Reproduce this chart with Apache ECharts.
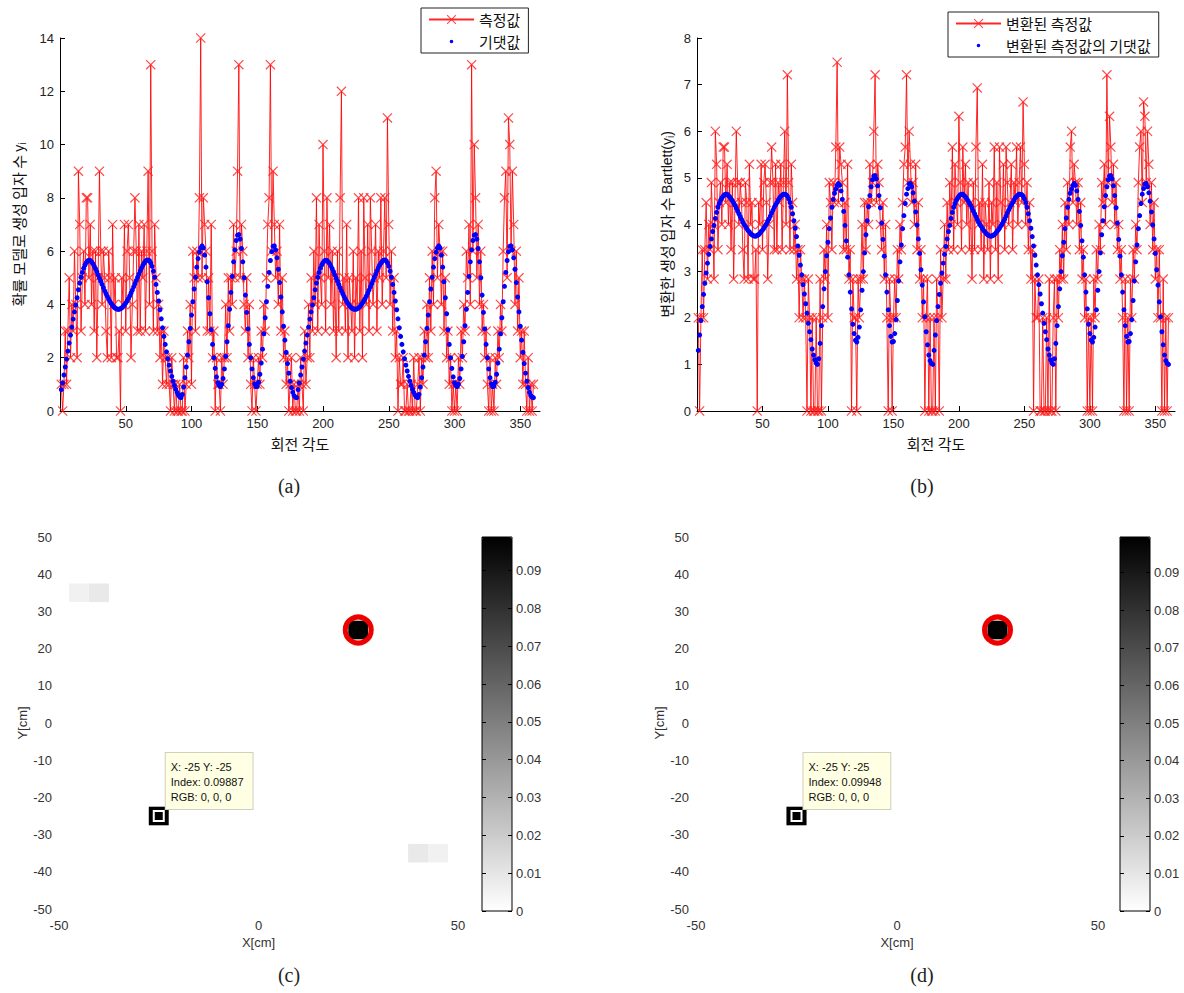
<!DOCTYPE html>
<html>
<head>
<meta charset="utf-8">
<script src="https://cdn.jsdelivr.net/npm/echarts@6/dist/echarts.min.js"></script>
<style>
html, body { margin: 0; background: #fff; }
#chart { width: 1184px; height: 993px; }
</style>
</head>
<body>
<div id="chart"></div>
<script>
// first rotation angle of the samples (one sample per degree)
var startAngle = 1;

// (a) measured particle counts y_i, degrees 1..360
var measuredA = [
    1,0,1,3,1,3,5,2,4,3,
    6,4,2,9,7,3,5,6,4,8,
    8,5,7,4,6,3,6,2,5,9,
    6,4,6,5,3,2,6,5,2,7,
    4,5,2,2,3,0,5,4,7,3,
    6,7,5,2,4,6,8,6,3,7,
    3,6,5,7,3,6,9,4,13,6,
    3,7,5,3,4,2,3,1,3,2,
    1,2,1,0,2,1,0,1,0,0,
    1,0,0,2,0,1,3,2,4,1,
    6,5,3,6,5,8,14,5,8,7,
    6,3,5,3,7,2,3,0,2,1,
    1,0,2,1,2,4,2,5,3,5,
    4,7,5,6,9,13,5,7,6,4,
    3,5,2,4,1,0,2,1,0,1,
    2,1,3,2,4,3,5,7,8,13,
    6,9,7,5,6,4,7,3,5,2,
    3,1,2,0,1,2,0,1,0,0,
    1,0,2,1,0,3,1,2,4,2,
    5,3,6,4,8,3,7,5,4,10,
    6,3,8,5,7,4,6,3,5,2,
    6,3,8,12,4,5,3,7,2,5,
    4,3,6,2,5,4,8,3,6,2,
    8,5,4,7,3,8,6,4,5,7,
    3,6,5,8,4,6,8,5,11,7,
    4,6,3,5,2,3,0,2,1,1,
    2,0,0,1,0,0,1,0,2,0,
    0,1,2,0,2,1,3,2,4,2,
    5,3,6,4,8,9,5,7,6,4,
    6,3,5,2,3,1,2,0,1,0,
    1,0,2,1,3,2,4,3,6,5,
    7,4,13,6,10,8,5,7,4,6,
    3,4,2,3,1,0,2,0,1,0,
    2,1,3,2,4,3,6,8,9,5,
    11,10,6,9,7,4,6,3,5,2,
    3,1,3,1,0,2,0,1,0,1
];

// (a) expected counts
var expectedA = [
    0.8,1.05,1.35,1.65,1.95,2.25,2.55,2.85,3.15,3.45,
    3.72,3.98,4.25,4.55,4.8,5.02,5.2,5.36,5.48,5.57,
    5.63,5.66,5.65,5.6,5.53,5.44,5.34,5.23,5.11,4.99,
    4.87,4.75,4.63,4.51,4.4,4.3,4.2,4.11,4.03,3.96,
    3.9,3.86,3.83,3.82,3.82,3.84,3.87,3.92,3.98,4.05,
    4.13,4.22,4.32,4.43,4.54,4.66,4.78,4.9,5.02,5.14,
    5.26,5.37,5.47,5.55,5.62,5.66,5.67,5.64,5.56,5.43,
    5.25,5.02,4.75,4.45,4.13,3.8,3.46,3.12,2.8,2.5,
    2.22,1.96,1.72,1.5,1.3,1.12,0.96,0.82,0.7,0.6,
    0.53,0.5,0.62,0.9,1.25,1.65,2.1,2.6,3.1,3.6,
    4.1,4.58,5.02,5.4,5.72,5.96,6.12,6.2,6.12,5.85,
    5.4,4.85,4.25,3.65,3.05,2.5,2.0,1.6,1.28,1.06,
    0.95,0.92,1.0,1.22,1.58,2.05,2.6,3.2,3.82,4.45,
    5.05,5.6,6.05,6.4,6.6,6.62,6.45,6.1,5.6,5.0,
    4.35,3.7,3.08,2.5,2.0,1.58,1.25,1.02,0.92,0.93,
    1.08,1.38,1.8,2.32,2.9,3.5,4.1,4.68,5.2,5.65,
    5.98,6.18,6.2,6.05,5.75,5.32,4.82,4.28,3.72,3.18,
    2.66,2.2,1.78,1.42,1.12,0.88,0.7,0.58,0.52,0.5,
    0.8,1.05,1.35,1.65,1.95,2.25,2.55,2.85,3.15,3.45,
    3.72,3.98,4.25,4.55,4.8,5.02,5.2,5.36,5.48,5.57,
    5.63,5.66,5.65,5.6,5.53,5.44,5.34,5.23,5.11,4.99,
    4.87,4.75,4.63,4.51,4.4,4.3,4.2,4.11,4.03,3.96,
    3.9,3.86,3.83,3.82,3.82,3.84,3.87,3.92,3.98,4.05,
    4.13,4.22,4.32,4.43,4.54,4.66,4.78,4.9,5.02,5.14,
    5.26,5.37,5.47,5.55,5.62,5.66,5.67,5.64,5.56,5.43,
    5.25,5.02,4.75,4.45,4.13,3.8,3.46,3.12,2.8,2.5,
    2.22,1.96,1.72,1.5,1.3,1.12,0.96,0.82,0.7,0.6,
    0.53,0.5,0.62,0.9,1.25,1.65,2.1,2.6,3.1,3.6,
    4.1,4.58,5.02,5.4,5.72,5.96,6.12,6.2,6.12,5.85,
    5.4,4.85,4.25,3.65,3.05,2.5,2.0,1.6,1.28,1.06,
    0.95,0.92,1.0,1.22,1.58,2.05,2.6,3.2,3.82,4.45,
    5.05,5.6,6.05,6.4,6.6,6.62,6.45,6.1,5.6,5.0,
    4.35,3.7,3.08,2.5,2.0,1.58,1.25,1.02,0.92,0.93,
    1.08,1.38,1.8,2.32,2.9,3.5,4.1,4.68,5.2,5.65,
    5.98,6.18,6.2,6.05,5.75,5.32,4.82,4.28,3.72,3.18,
    2.66,2.2,1.78,1.42,1.12,0.88,0.7,0.58,0.52,0.5
];

// (b) Bartlett transformed measurements
var measuredB = [
    2,0,2,3.46,2,3.46,4.47,2.83,4,3.46,
    4.9,4,2.83,6,5.29,3.46,4.47,4.9,4,5.66,
    5.66,4.47,5.29,4,4.9,3.46,4.9,2.83,4.47,6,
    4.9,4,4.9,4.47,3.46,2.83,4.9,4.47,2.83,5.29,
    4,4.47,2.83,2.83,3.46,0,4.47,4,5.29,3.46,
    4.9,5.29,4.47,2.83,4,4.9,5.66,4.9,3.46,5.29,
    3.46,4.9,4.47,5.29,3.46,4.9,6,4,7.21,4.9,
    3.46,5.29,4.47,3.46,4,2.83,3.46,2,3.46,2.83,
    2,2.83,2,0,2.83,2,0,2,0,0,
    2,0,0,2.83,0,2,3.46,2.83,4,2,
    4.9,4.47,3.46,4.9,4.47,5.66,7.48,4.47,5.66,5.29,
    4.9,3.46,4.47,3.46,5.29,2.83,3.46,0,2.83,2,
    2,0,2.83,2,2.83,4,2.83,4.47,3.46,4.47,
    4,5.29,4.47,4.9,6,7.21,4.47,5.29,4.9,4,
    3.46,4.47,2.83,4,2,0,2.83,2,0,2,
    2.83,2,3.46,2.83,4,3.46,4.47,5.29,5.66,7.21,
    4.9,6,5.29,4.47,4.9,4,5.29,3.46,4.47,2.83,
    3.46,2,2.83,0,2,2.83,0,2,0,0,
    2,0,2.83,2,0,3.46,2,2.83,4,2.83,
    4.47,3.46,4.9,4,5.66,3.46,5.29,4.47,4,6.32,
    4.9,3.46,5.66,4.47,5.29,4,4.9,3.46,4.47,2.83,
    4.9,3.46,5.66,6.93,4,4.47,3.46,5.29,2.83,4.47,
    4,3.46,4.9,2.83,4.47,4,5.66,3.46,4.9,2.83,
    5.66,4.47,4,5.29,3.46,5.66,4.9,4,4.47,5.29,
    3.46,4.9,4.47,5.66,4,4.9,5.66,4.47,6.63,5.29,
    4,4.9,3.46,4.47,2.83,3.46,0,2.83,2,2,
    2.83,0,0,2,0,0,2,0,2.83,0,
    0,2,2.83,0,2.83,2,3.46,2.83,4,2.83,
    4.47,3.46,4.9,4,5.66,6,4.47,5.29,4.9,4,
    4.9,3.46,4.47,2.83,3.46,2,2.83,0,2,0,
    2,0,2.83,2,3.46,2.83,4,3.46,4.9,4.47,
    5.29,4,7.21,4.9,6.32,5.66,4.47,5.29,4,4.9,
    3.46,4,2.83,3.46,2,0,2.83,0,2,0,
    2.83,2,3.46,2.83,4,3.46,4.9,5.66,6,4.47,
    6.63,6.32,4.9,6,5.29,4,4.9,3.46,4.47,2.83,
    3.46,2,3.46,2,0,2.83,0,2,0,2
];

// (b) expected transformed values
var expectedB = [
    1.3,1.63,1.94,2.24,2.5,2.74,2.96,3.17,3.36,3.53,
    3.69,3.85,3.98,4.13,4.26,4.37,4.45,4.52,4.57,4.61,
    4.64,4.65,4.65,4.62,4.59,4.55,4.51,4.46,4.41,4.35,
    4.29,4.23,4.17,4.11,4.05,4.0,3.96,3.91,3.87,3.84,
    3.8,3.78,3.76,3.75,3.75,3.77,3.78,3.81,3.85,3.88,
    3.92,3.97,4.01,4.07,4.12,4.18,4.25,4.31,4.37,4.42,
    4.47,4.52,4.57,4.6,4.63,4.65,4.65,4.64,4.61,4.55,
    4.47,4.37,4.23,4.08,3.92,3.74,3.54,3.34,3.13,2.92,
    2.71,2.51,2.3,2.1,1.88,1.7,1.53,1.33,1.2,1.1,
    1.03,1.0,1.12,1.45,1.83,2.24,2.62,2.99,3.33,3.62,
    3.91,4.14,4.37,4.54,4.67,4.76,4.84,4.88,4.84,4.72,
    4.54,4.28,3.98,3.65,3.3,2.92,2.55,2.19,1.86,1.66,
    1.52,1.48,1.58,1.8,2.17,2.59,2.99,3.39,3.78,4.08,
    4.38,4.62,4.81,4.96,5.04,5.05,4.98,4.83,4.62,4.36,
    4.03,3.68,3.32,2.92,2.55,2.17,1.83,1.6,1.48,1.49,
    1.66,1.96,2.37,2.79,3.2,3.56,3.91,4.19,4.45,4.65,
    4.77,4.87,4.88,4.81,4.68,4.5,4.27,3.99,3.69,3.38,
    3.03,2.7,2.34,2.02,1.7,1.42,1.2,1.08,1.02,1.0,
    1.3,1.63,1.94,2.24,2.5,2.74,2.96,3.17,3.36,3.53,
    3.69,3.85,3.98,4.13,4.26,4.37,4.45,4.52,4.57,4.61,
    4.64,4.65,4.65,4.62,4.59,4.55,4.51,4.46,4.41,4.35,
    4.29,4.23,4.17,4.11,4.05,4.0,3.96,3.91,3.87,3.84,
    3.8,3.78,3.76,3.75,3.75,3.77,3.78,3.81,3.85,3.88,
    3.92,3.97,4.01,4.07,4.12,4.18,4.25,4.31,4.37,4.42,
    4.47,4.52,4.57,4.6,4.63,4.65,4.65,4.64,4.61,4.55,
    4.47,4.37,4.23,4.08,3.92,3.74,3.54,3.34,3.13,2.92,
    2.71,2.51,2.3,2.1,1.88,1.7,1.53,1.33,1.2,1.1,
    1.03,1.0,1.12,1.45,1.83,2.24,2.62,2.99,3.33,3.62,
    3.91,4.14,4.37,4.54,4.67,4.76,4.84,4.88,4.84,4.72,
    4.54,4.28,3.98,3.65,3.3,2.92,2.55,2.19,1.86,1.66,
    1.52,1.48,1.58,1.8,2.17,2.59,2.99,3.39,3.78,4.08,
    4.38,4.62,4.81,4.96,5.04,5.05,4.98,4.83,4.62,4.36,
    4.03,3.68,3.32,2.92,2.55,2.17,1.83,1.6,1.48,1.49,
    1.66,1.96,2.37,2.79,3.2,3.56,3.91,4.19,4.45,4.65,
    4.77,4.87,4.88,4.81,4.68,4.5,4.27,3.99,3.69,3.38,
    3.03,2.7,2.34,2.02,1.7,1.42,1.2,1.08,1.02,1.0
];

// (c),(d) estimated maps: non-zero cells only [x cm, y cm, value]
var cellsC = [[-45, 35, 0.0055], [-40, 35, 0.0085], [25, 25, 0.0985], [-25, -25, 0.09887], [40, -35, 0.0085], [45, -35, 0.0055]];
var cellsD = [[25, 25, 0.0991], [-25, -25, 0.09948]];
var maxC = 0.09887;
var maxD = 0.09948;
var sourceXY = [[25, 25]];
var cursorC = [[-25, -25, 0.09887]];
var cursorD = [[-25, -25, 0.09948]];
var cellSize = 5;

var FONT = '"Liberation Sans", "Noto Sans CJK KR", sans-serif';
var KFONT = '"Noto Sans CJK KR", "Liberation Sans", sans-serif';
var X_MARK = 'path://M0.85,0L10,9.15L9.15,10L0,0.85Z M9.15,0L10,0.85L0.85,10L0,9.15Z';
var DOT_ICON = 'path://M0,0M10,10M3.5,5A1.5,1.5,0,1,1,6.5,5A1.5,1.5,0,1,1,3.5,5Z';

var chart = echarts.init(document.getElementById('chart'), null, {renderer: 'svg'});

function toPairs(values) {
    return values.map(function (v, i) { return [startAngle + i, v]; });
}

function drawCell(params, api) {
    var x = api.value(0), y = api.value(1);
    var a = api.coord([x - cellSize / 2, y + cellSize / 2]);
    var b = api.coord([x + cellSize / 2, y - cellSize / 2]);
    return {
        type: 'rect',
        shape: {x: a[0], y: a[1], width: b[0] - a[0], height: b[1] - a[1]},
        style: {fill: api.visual('color')}
    };
}

function lineX(gi) {
    return {
        gridIndex: gi, type: 'value', min: 0, max: 365, interval: 50,
        axisLine: {onZero: false, lineStyle: {color: '#000'}},
        axisTick: {inside: true, length: 5, lineStyle: {color: '#000'}},
        axisLabel: {showMinLabel: false, showMaxLabel: false, fontSize: 13, color: '#222', margin: 6, fontFamily: FONT},
        splitLine: {show: false},
        name: '회전 각도', nameLocation: 'middle', nameGap: 24,
        nameTextStyle: {fontSize: 15, lineHeight: 16, color: '#111', fontFamily: KFONT}
    };
}

function lineY(gi, max, step, name, gap) {
    return {
        gridIndex: gi, type: 'value', min: 0, max: max, interval: step,
        axisLine: {show: true, onZero: false, lineStyle: {color: '#000'}},
        axisTick: {show: true, inside: true, length: 5, lineStyle: {color: '#000'}},
        axisLabel: {fontSize: 13, color: '#222', margin: 6, fontFamily: FONT},
        splitLine: {show: false},
        name: name, nameLocation: 'middle', nameGap: gap,
        nameTextStyle: {
            fontSize: 15, color: '#111', fontFamily: KFONT,
            rich: {
                it: {fontSize: 14, color: '#111', fontFamily: FONT, lineHeight: 17},
                sub: {fontSize: 10, color: '#111', fontFamily: FONT, lineHeight: 11, verticalAlign: 'bottom'}
            }
        }
    };
}

function heatX(gi) {
    return {
        gridIndex: gi, type: 'value', min: -50, max: 50, interval: 50,
        axisLine: {show: false, onZero: false}, axisTick: {show: false}, splitLine: {show: false},
        axisLabel: {fontSize: 13, color: '#333', margin: 10, fontFamily: FONT},
        name: 'X[cm]', nameLocation: 'middle', nameGap: 27,
        nameTextStyle: {fontSize: 13, color: '#333', fontFamily: FONT}
    };
}

function heatY(gi) {
    return {
        gridIndex: gi, type: 'value', min: -50, max: 50, interval: 10,
        axisLine: {show: false, onZero: false}, axisTick: {show: false}, splitLine: {show: false},
        axisLabel: {fontSize: 13, color: '#333', margin: 7, fontFamily: FONT},
        name: 'Y[cm]', nameLocation: 'middle', nameGap: 30,
        nameTextStyle: {fontSize: 13, color: '#333', fontFamily: FONT}
    };
}

function barX(gi) {
    return {gridIndex: gi, type: 'value', min: 0, max: 1, show: false};
}

function barY(gi, max, side) {
    return {
        gridIndex: gi, type: 'value', min: 0, max: max, interval: 0.01, position: side, z: 10,
        axisLine: {show: false, onZero: false},
        axisTick: {show: true, inside: true, length: 4, lineStyle: {color: '#000'}},
        axisLabel: {
            show: side === 'right', showMaxLabel: false, fontSize: 13, color: '#333', margin: 4, fontFamily: FONT,
            formatter: function (v) { return v === 0 ? '0' : v.toFixed(2); }
        },
        splitLine: {show: false}
    };
}

function cursorLabel(p) {
    return 'X: ' + p.value[0] + ' Y: ' + p.value[1] + '\nIndex: ' + p.value[2] + '\nRGB: 0, 0, 0';
}

function mapSeries(gi, cells, cursor) {
    return [
        {
            name: 'map' + gi, type: 'custom', xAxisIndex: gi, yAxisIndex: gi,
            data: cells, encode: {x: 0, y: 1}, renderItem: drawCell, z: 2, silent: true
        },
        {
            name: 'source' + gi, type: 'scatter', xAxisIndex: gi, yAxisIndex: gi,
            data: sourceXY, symbol: 'circle', symbolSize: 26, z: 4, silent: true,
            itemStyle: {color: 'rgba(0,0,0,0)', borderColor: '#ee0000', borderWidth: 5, opacity: 1}
        },
        {
            name: 'cursor' + gi, type: 'scatter', xAxisIndex: gi, yAxisIndex: gi,
            data: cursor, symbol: 'rect', symbolSize: 10, z: 5, silent: true,
            itemStyle: {color: '#000', borderColor: '#fff', borderWidth: 2, opacity: 1},
            label: {
                show: true, position: [13, -57], align: 'left', verticalAlign: 'top',
                formatter: cursorLabel, fontSize: 11, lineHeight: 15, color: '#111', fontFamily: FONT,
                backgroundColor: '#ffffe3', borderColor: '#cfcfbd', borderWidth: 1, padding: [6, 9, 5, 5]
            }
        }
    ];
}

function legendBox(left, top, names) {
    return {
        left: left, top: top, orient: 'vertical', padding: [3, 8, 3, 7], itemGap: 5,
        itemWidth: 45, itemHeight: 12, backgroundColor: '#fff', borderColor: '#222', borderWidth: 1,
        selectedMode: false, textStyle: {fontSize: 15, lineHeight: 17, color: '#111', fontFamily: KFONT},
        data: [names[0], {name: names[1], icon: DOT_ICON}]
    };
}

function caption(text, x, y) {
    return {
        text: text, left: x, top: y, textAlign: 'center', padding: 0,
        textStyle: {fontFamily: '"Liberation Serif", "DejaVu Serif", serif', fontSize: 20, fontWeight: 'normal', color: '#222'}
    };
}

var option = {
    animation: false,
    backgroundColor: '#fff',
    textStyle: {fontFamily: FONT},
    title: [caption('(a)', 289, 476), caption('(b)', 922, 476), caption('(c)', 289, 965), caption('(d)', 922, 965)],
    legend: [
        legendBox(421, 8, ['측정값', '기댓값']),
        legendBox(948, 12, ['변환된 측정값', '변환된 측정값의 기댓값'])
    ],
    grid: [
        {left: 60, top: 38, width: 480, height: 373, outerBoundsMode: 'none'},
        {left: 697, top: 38, width: 478, height: 373, outerBoundsMode: 'none'},
        {left: 59, top: 537, width: 399, height: 372, outerBoundsMode: 'none'},
        {left: 696, top: 537, width: 402, height: 372, outerBoundsMode: 'none'},
        {left: 482, top: 537, width: 30, height: 374, outerBoundsMode: 'none', show: true, z: 10,
            backgroundColor: 'rgba(0,0,0,0)', borderColor: '#000', borderWidth: 1},
        {left: 1120, top: 537, width: 30, height: 374, outerBoundsMode: 'none', show: true, z: 10,
            backgroundColor: 'rgba(0,0,0,0)', borderColor: '#000', borderWidth: 1}
    ],
    xAxis: [lineX(0), lineX(1), heatX(2), heatX(3), barX(4), barX(5)],
    yAxis: [
        lineY(0, 14, 2, '확률 모델로 생성 입자 수 {it|y}{sub|i}', 33),
        lineY(1, 8, 1, '변환한 생성 입자 수 {it|Bartlett(y}{sub|i}{it|)}', 22),
        heatY(2), heatY(3),
        barY(4, maxC, 'right'), barY(5, maxD, 'right'),
        barY(4, maxC, 'left'), barY(5, maxD, 'left')
    ],
    visualMap: [
        {type: 'continuous', seriesIndex: 4, dimension: 2, min: 0, max: maxC, left: 482, top: 537,
            itemWidth: 30, itemHeight: 374, padding: 0, calculable: false, hoverLink: false,
            inRange: {color: ['#ffffff', '#000000']}},
        {type: 'continuous', seriesIndex: 7, dimension: 2, min: 0, max: maxD, left: 1120, top: 537,
            itemWidth: 30, itemHeight: 374, padding: 0, calculable: false, hoverLink: false,
            inRange: {color: ['#ffffff', '#000000']}}
    ],
    series: [
        {
            name: '측정값', type: 'line', xAxisIndex: 0, yAxisIndex: 0, data: toPairs(measuredA),
            symbol: X_MARK, symbolSize: 10, showSymbol: true, z: 2, silent: true,
            lineStyle: {color: '#ff0000', width: 1, opacity: 0.85},
            itemStyle: {color: 'rgba(255,30,30,0.8)', borderWidth: 0}
        },
        {
            name: '기댓값', type: 'scatter', xAxisIndex: 0, yAxisIndex: 0, data: toPairs(expectedA),
            symbol: 'circle', symbolSize: 5, z: 3, silent: true, itemStyle: {color: '#0000ff', opacity: 1}
        },
        {
            name: '변환된 측정값', type: 'line', xAxisIndex: 1, yAxisIndex: 1, data: toPairs(measuredB),
            symbol: X_MARK, symbolSize: 10, showSymbol: true, z: 2, silent: true,
            lineStyle: {color: '#ff0000', width: 1, opacity: 0.85},
            itemStyle: {color: 'rgba(255,30,30,0.8)', borderWidth: 0}
        },
        {
            name: '변환된 측정값의 기댓값', type: 'scatter', xAxisIndex: 1, yAxisIndex: 1, data: toPairs(expectedB),
            symbol: 'circle', symbolSize: 5, z: 3, silent: true, itemStyle: {color: '#0000ff', opacity: 1}
        }
    ].concat(mapSeries(2, cellsC, cursorC), mapSeries(3, cellsD, cursorD))
};

chart.setOption(option);
</script>
</body>
</html>
